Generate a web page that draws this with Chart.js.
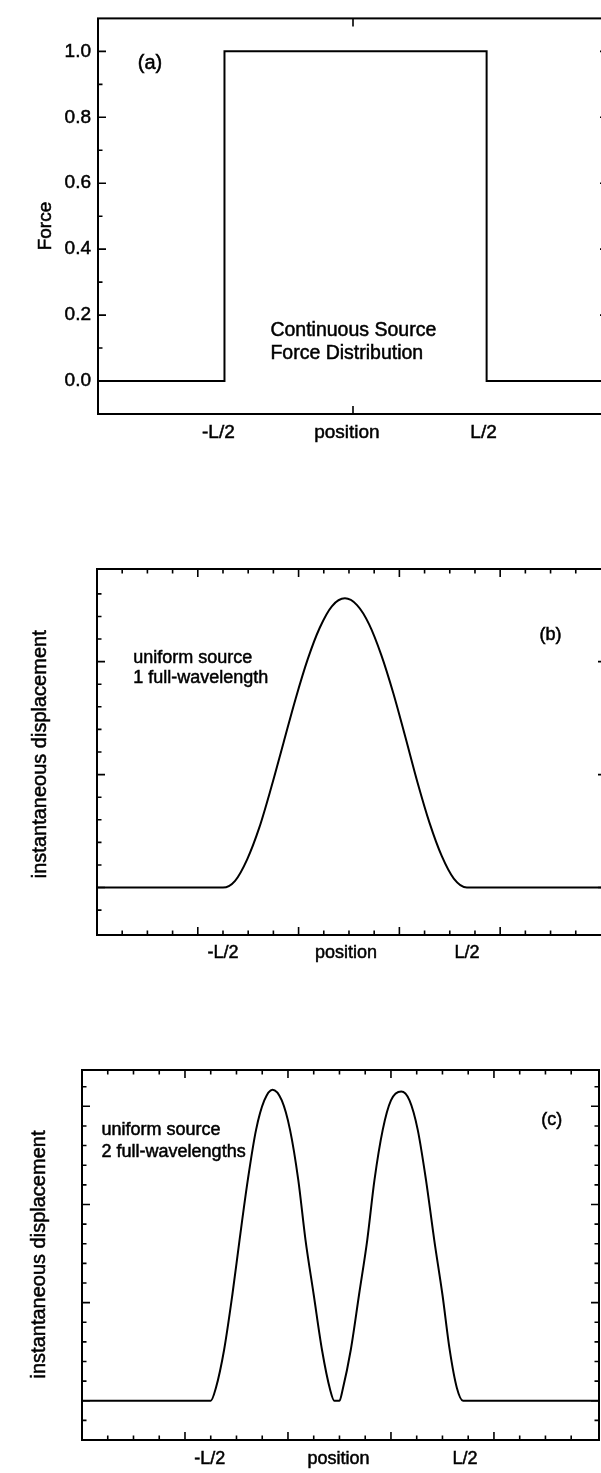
<!DOCTYPE html>
<html>
<head>
<meta charset="utf-8">
<script src="https://cdn.jsdelivr.net/npm/chart.js@4.4.1/dist/chart.umd.min.js"></script>
<style>
  html, body { margin: 0; padding: 0; background: #fff; overflow: hidden; }
  .panel { position: absolute; left: 0; }
</style>
</head>
<body>
<div class="panel" style="top:0px"><canvas id="force-canvas" width="620" height="470"></canvas></div>
<div class="panel" style="top:480px"><canvas id="one-canvas" width="620" height="500"></canvas></div>
<div class="panel" style="top:1000px"><canvas id="two-canvas" width="601" height="473"></canvas></div>
<script>
const posLabels = ["-L/2", "position", "L/2"];

// (a) continuous source force distribution
const forceX = [0, 1.24, 1.24, 3.81, 3.81, 5];
const forceY = [0, 0, 1, 1, 0, 0];
const forceLabelX = [1.18, 2.44, 3.78];
const forceMajorY = [0, 0.2, 0.4, 0.6, 0.8, 1.0];
const forceMinorY = [0.1, 0.3, 0.5, 0.7, 0.9];
const forceMajorX = [2.5];

// (b) uniform source, 1 full wavelength
const oneWaveX = [0, 1.25, 1.37, 1.49, 1.61, 1.73, 1.85, 1.97, 2.09, 2.21, 2.33, 2.46, 2.58, 2.7, 2.82, 2.94, 3.06, 3.18, 3.3, 3.42, 3.54, 3.67, 5.05];
const oneWaveY = [0, 0, 0.06, 0.25, 0.53, 0.89, 1.28, 1.67, 2.02, 2.3, 2.49, 2.56, 2.5, 2.33, 2.06, 1.72, 1.33, 0.93, 0.57, 0.28, 0.08, 0, 0];
const oneWaveLabelX = [1.25, 2.47, 3.67];

// (c) uniform source, 2 full wavelengths
const twoWaveX = [0, 1.25, 1.3, 1.38, 1.46, 1.53, 1.61, 1.69, 1.77, 1.85, 1.94, 2.02, 2.1, 2.17, 2.25, 2.33, 2.41, 2.45, 2.5, 2.53, 2.61, 2.69, 2.77, 2.84, 2.92, 3.0, 3.1, 3.18, 3.26, 3.34, 3.42, 3.5, 3.57, 3.64, 3.7, 5.02];
const twoWaveY = [0, 0, 0.13, 0.52, 1.08, 1.64, 2.25, 2.76, 3.06, 3.17, 3.06, 2.76, 2.25, 1.64, 1.08, 0.52, 0.11, 0, 0, 0.11, 0.52, 1.08, 1.64, 2.25, 2.76, 3.06, 3.15, 3.06, 2.76, 2.25, 1.64, 1.08, 0.52, 0.13, 0, 0];
const twoWaveLabelX = [1.24, 2.49, 3.72];

// tick marks shared by (b) and (c)
const waveMajorX = [1, 2, 3, 4];
const waveMinorX = [0.25, 0.5, 0.75, 1.25, 1.5, 1.75, 2.25, 2.5, 2.75, 3.25, 3.5, 3.75, 4.25, 4.5, 4.75];
const oneWaveMajorY = [0, 1, 2];
const oneWaveMinorY = [-0.2, 0.2, 0.4, 0.6, 0.8, 1.2, 1.4, 1.6, 1.8, 2.2, 2.4, 2.6];
const twoWaveMajorY = [0, 1, 2, 3];
const twoWaveMinorY = [-0.2, 0.2, 0.4, 0.6, 0.8, 1.2, 1.4, 1.6, 1.8, 2.2, 2.4, 2.6, 2.8, 3.2];

const FONT = "'Liberation Sans', Arial, sans-serif";
Chart.defaults.font.family = FONT;
Chart.defaults.color = "#000";

//Frame round the plot with inward ticks on all four sides
const framePlugin = {
  id: "frame",
  afterDatasetsDraw(chart, args, opts) {
    const { ctx, chartArea, scales } = chart;
    const { left, right, top, bottom } = chartArea;
    ctx.save();
    ctx.strokeStyle = "#000";
    ctx.lineWidth = 2;
    ctx.strokeRect(left, top, right - left, bottom - top);
    ctx.lineWidth = 1.6;
    ctx.beginPath();
    const xTick = (v, len) => {
      const px = scales.x.getPixelForValue(v);
      ctx.moveTo(px, bottom);
      ctx.lineTo(px, bottom - len);
      ctx.moveTo(px, top);
      ctx.lineTo(px, top + len);
    };
    const yTick = (v, len) => {
      const py = scales.y.getPixelForValue(v);
      ctx.moveTo(left, py);
      ctx.lineTo(left + len, py);
      ctx.moveTo(right, py);
      ctx.lineTo(right - len, py);
    };
    (opts.xMajor || []).forEach((v) => xTick(v, 8));
    (opts.xMinor || []).forEach((v) => xTick(v, 4.5));
    (opts.yMajor || []).forEach((v) => yTick(v, 8));
    (opts.yMinor || []).forEach((v) => yTick(v, 4.5));
    ctx.stroke();
    ctx.restore();
  },
};

//Free text placed in data coordinates
const notesPlugin = {
  id: "notes",
  afterDraw(chart, args, opts) {
    const { ctx, scales } = chart;
    ctx.save();
    ctx.fillStyle = "#000";
    ctx.strokeStyle = "#000";
    ctx.lineWidth = 0.5;
    (opts.items || []).forEach((item) => {
      const px = scales.x.getPixelForValue(item.x);
      const py = scales.y.getPixelForValue(item.y);
      ctx.font = `${item.size}px ${FONT}`;
      ctx.translate(px, py);
      if (item.rotate) {
        ctx.rotate(-Math.PI / 2);
        ctx.textAlign = "center";
        ctx.textBaseline = "middle";
      } else {
        ctx.textAlign = "left";
        ctx.textBaseline = "alphabetic";
      }
      ctx.fillText(item.text, 0, 0);
      ctx.strokeText(item.text, 0, 0);
      ctx.setTransform(1, 0, 0, 1, 0, 0);
    });
    ctx.restore();
  },
};

const makePanel = (canvasId, cfg) => {
  const myChart = new Chart(document.getElementById(canvasId), {
    type: "line",
    data: {
      datasets: [
        {
          data: cfg.xs.map((x, i) => ({ x, y: cfg.ys[i] })),
          borderColor: "#000",
          borderWidth: 2,
          pointRadius: 0,
          tension: 0,
          cubicInterpolationMode: cfg.smooth ? "monotone" : "default",
        },
      ],
    },
    options: {
      responsive: false,
      animation: false,
      layout: { autoPadding: false, padding: cfg.padding },
      plugins: {
        legend: { display: false },
        tooltip: { enabled: false },
        frame: cfg.ticks,
        notes: { items: cfg.notes },
      },
      scales: {
        x: {
          type: "linear",
          min: cfg.xMin,
          max: cfg.xMax,
          grid: { display: false, drawTicks: false },
          border: { display: false },
          afterBuildTicks: (scale) => {
            scale.ticks = cfg.labelX.map((v) => ({ value: v }));
          },
          afterFit: (scale) => {
            scale.height = cfg.xHeight;
          },
          ticks: {
            autoSkip: false,
            maxRotation: 0,
            padding: cfg.labelPad,
            font: { size: cfg.tickSize },
            textStrokeColor: "#000",
            textStrokeWidth: 0.5,
            callback: (v, i) => posLabels[i],
          },
        },
        y: {
          type: "linear",
          min: cfg.yMin,
          max: cfg.yMax,
          grid: { display: false, drawTicks: false },
          border: { display: false },
          afterBuildTicks: (scale) => {
            scale.ticks = (cfg.yLabels || []).map((v) => ({ value: v }));
          },
          afterFit: (scale) => {
            scale.width = cfg.yWidth;
          },
          ticks: {
            display: !!cfg.yLabels,
            padding: 7,
            font: { size: cfg.tickSize },
            textStrokeColor: "#000",
            textStrokeWidth: 0.5,
            callback: (v) => v.toFixed(1),
          },
        },
      },
    },
    plugins: [framePlugin, notesPlugin],
  });
  return myChart;
};

makePanel("force-canvas", {
  xs: forceX,
  ys: forceY,
  smooth: false,
  xMin: 0,
  xMax: 5,
  yMin: -0.1,
  yMax: 1.1,
  padding: { left: 0, top: 8, right: 12, bottom: 0 },
  yWidth: 98,
  xHeight: 56,
  labelX: forceLabelX,
  labelPad: 7,
  tickSize: 19,
  yLabels: forceMajorY,
  ticks: { xMajor: forceMajorX, yMajor: forceMajorY, yMinor: forceMinorY },
  notes: [
    { text: "(a)", x: 0.39, y: 0.947, size: 20 },
    { text: "Continuous Source", x: 1.69, y: 0.136, size: 19.5 },
    { text: "Force Distribution", x: 1.69, y: 0.068, size: 19.5 },
    { text: "Force", x: -0.51, y: 0.47, size: 19, rotate: true },
  ],
});

makePanel("one-canvas", {
  xs: oneWaveX,
  ys: oneWaveY,
  smooth: true,
  xMin: 0,
  xMax: 5.05,
  yMin: -0.42,
  yMax: 2.82,
  padding: { left: 0, top: 89, right: 14, bottom: 0 },
  yWidth: 97,
  xHeight: 45,
  labelX: oneWaveLabelX,
  labelPad: 7,
  tickSize: 18,
  ticks: { xMajor: waveMajorX, xMinor: waveMinorX, yMajor: oneWaveMajorY, yMinor: oneWaveMinorY },
  notes: [
    { text: "(b)", x: 4.39, y: 2.19, size: 18 },
    { text: "uniform source", x: 0.36, y: 1.99, size: 18 },
    { text: "1 full-wavelength", x: 0.36, y: 1.81, size: 18 },
    { text: "instantaneous displacement", x: -0.565, y: 1.18, size: 20, rotate: true },
  ],
});

makePanel("two-canvas", {
  xs: twoWaveX,
  ys: twoWaveY,
  smooth: true,
  xMin: 0,
  xMax: 5.02,
  yMin: -0.4,
  yMax: 3.37,
  padding: { left: 0, top: 70, right: 2, bottom: 0 },
  yWidth: 82,
  xHeight: 33,
  labelX: twoWaveLabelX,
  labelPad: 8,
  tickSize: 18,
  ticks: { xMajor: waveMajorX, xMinor: waveMinorX, yMajor: twoWaveMajorY, yMinor: twoWaveMinorY },
  notes: [
    { text: "(c)", x: 4.46, y: 2.81, size: 18 },
    { text: "uniform source", x: 0.19, y: 2.71, size: 18 },
    { text: "2 full-wavelengths", x: 0.19, y: 2.48, size: 18 },
    { text: "instantaneous displacement", x: -0.41, y: 1.49, size: 20, rotate: true },
  ],
});
</script>
</body>
</html>
